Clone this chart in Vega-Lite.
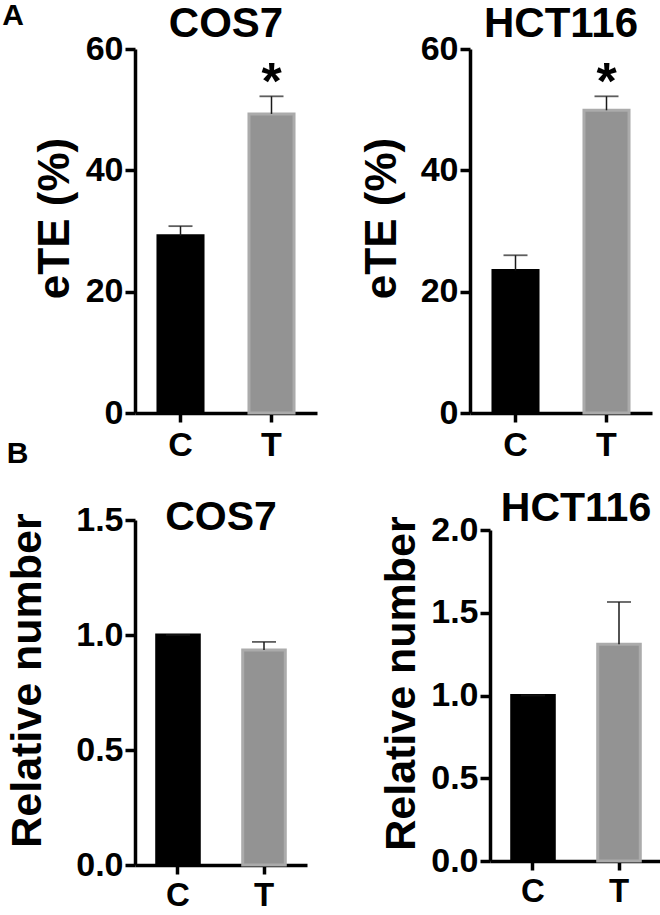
{
  "$schema": "https://vega.github.io/schema/vega-lite/v6.json",
  "background": "white",
  "padding": {"left": 2, "top": 1, "right": 0, "bottom": 0},
  "autosize": {"type": "pad"},
  "datasets": {
    "a_cos7": [
      {"group": "C", "mean": 29.2, "upper": 30.8, "star": ""},
      {"group": "T", "mean": 49.3, "upper": 52.2, "star": "*"}
    ],
    "a_hct": [
      {"group": "C", "mean": 23.5, "upper": 26.0, "star": ""},
      {"group": "T", "mean": 49.9, "upper": 52.2, "star": "*"}
    ],
    "b_cos7": [
      {"group": "C", "mean": 1.0, "upper": 1.0, "star": ""},
      {"group": "T", "mean": 0.935, "upper": 0.97, "star": ""}
    ],
    "b_hct": [
      {"group": "C", "mean": 1.0, "upper": 1.0, "star": ""},
      {"group": "T", "mean": 1.31, "upper": 1.565, "star": ""}
    ]
  },
  "config": {
    "font": "Liberation Sans",
    "view": {"stroke": null},
    "axis": {
      "domainColor": "black", "domainWidth": 3.5, "tickColor": "black", "tickWidth": 3.5, "tickSize": 10,
      "labelColor": "black", "labelFont": "Liberation Sans", "labelFontWeight": "bold", "labelFontSize": 34, "labelPadding": 2,
      "titleColor": "black", "titleFont": "Liberation Sans", "titleFontWeight": "bold", "titleFontSize": 44,
      "grid": false, "zindex": 1
    },
    "axisX": {"labelFontSize": 34, "tickSize": 9, "labelPadding": 6, "labelAngle": 0, "title": null},
    "title": {"font": "Liberation Sans", "fontWeight": "bold", "color": "black", "anchor": "middle", "frame": "group"}
  },
  "spacing": -23,
  "vconcat": [
    {
      "title": {"text": "A", "anchor": "start", "frame": "bounds", "fontSize": 30, "offset": -28, "dx": -31},
      "bounds": "flush",
      "spacing": 153,
      "hconcat": [
        {
          "width": 182, "height": 364,
          "data": {"name": "a_cos7"},
          "title": {"text": "COS7", "fontSize": 42, "offset": -14},
          "encoding": {"x": {"field": "group", "type": "nominal", "scale": {"paddingInner": 0.505, "paddingOuter": 0.2525}}},
          "layer": [
            {"mark": {"type": "bar", "strokeWidth": 3},
             "encoding": {
               "y": {"field": "mean", "type": "quantitative", "scale": {"domain": [0, 60], "nice": false}, "axis": {"values": [0, 20, 40, 60], "title": "eTE (%)", "titlePadding": 8, "titleY": 169}},
               "fill": {"field": "group", "type": "nominal", "scale": {"domain": ["C", "T"], "range": ["#000000", "#939393"]}, "legend": null},
               "stroke": {"field": "group", "type": "nominal", "scale": {"domain": ["C", "T"], "range": ["#000000", "#ababab"]}, "legend": null}}},
            {"mark": {"type": "rule", "strokeWidth": 1.5, "color": "#1a1a1a"},
             "encoding": {"y": {"field": "mean", "type": "quantitative"}, "y2": {"field": "upper"}}},
            {"mark": {"type": "tick", "size": 24, "thickness": 1.8, "color": "#1a1a1a"},
             "encoding": {"y": {"field": "upper", "type": "quantitative"}}},
            {"mark": {"type": "text", "fontSize": 52, "fontWeight": "bold", "baseline": "alphabetic", "dy": 3, "color": "black"},
             "encoding": {"y": {"field": "upper", "type": "quantitative"}, "text": {"field": "star"}}}
          ]
        },
        {
          "width": 182, "height": 364,
          "data": {"name": "a_hct"},
          "title": {"text": "HCT116", "fontSize": 42, "offset": -14},
          "encoding": {"x": {"field": "group", "type": "nominal", "scale": {"paddingInner": 0.505, "paddingOuter": 0.2525}}},
          "layer": [
            {"mark": {"type": "bar", "strokeWidth": 3},
             "encoding": {
               "y": {"field": "mean", "type": "quantitative", "scale": {"domain": [0, 60], "nice": false}, "axis": {"values": [0, 20, 40, 60], "title": "eTE (%)", "titlePadding": 16, "titleY": 169}},
               "fill": {"field": "group", "type": "nominal", "scale": {"domain": ["C", "T"], "range": ["#000000", "#939393"]}, "legend": null},
               "stroke": {"field": "group", "type": "nominal", "scale": {"domain": ["C", "T"], "range": ["#000000", "#ababab"]}, "legend": null}}},
            {"mark": {"type": "rule", "strokeWidth": 1.5, "color": "#1a1a1a"},
             "encoding": {"y": {"field": "mean", "type": "quantitative"}, "y2": {"field": "upper"}}},
            {"mark": {"type": "tick", "size": 24, "thickness": 1.8, "color": "#1a1a1a"},
             "encoding": {"y": {"field": "upper", "type": "quantitative"}}},
            {"mark": {"type": "text", "fontSize": 52, "fontWeight": "bold", "baseline": "alphabetic", "dy": 3, "color": "black"},
             "encoding": {"y": {"field": "upper", "type": "quantitative"}, "text": {"field": "star"}}}
          ]
        }
      ]
    },
    {
      "title": {"text": "B", "anchor": "start", "frame": "bounds", "fontSize": 30, "offset": 19},
      "bounds": "flush",
      "spacing": 183,
      "hconcat": [
        {
          "width": 172, "height": 345,
          "data": {"name": "b_cos7"},
          "title": {"text": "COS7", "fontSize": 41, "offset": -36},
          "encoding": {"x": {"field": "group", "type": "nominal", "scale": {"paddingInner": 0.505, "paddingOuter": 0.2525}, "axis": {"labelFontSize": 33, "labelPadding": 5}}},
          "layer": [
            {"mark": {"type": "bar", "strokeWidth": 3},
             "encoding": {
               "y": {"field": "mean", "type": "quantitative", "scale": {"domain": [0, 1.5], "nice": false}, "axis": {"values": [0, 0.5, 1, 1.5], "format": ".1f", "title": "Relative number", "titleFontSize": 43, "titlePadding": 26, "titleY": 160}},
               "fill": {"field": "group", "type": "nominal", "scale": {"domain": ["C", "T"], "range": ["#000000", "#939393"]}, "legend": null},
               "stroke": {"field": "group", "type": "nominal", "scale": {"domain": ["C", "T"], "range": ["#000000", "#ababab"]}, "legend": null}}},
            {"mark": {"type": "rule", "strokeWidth": 1.5, "color": "#1a1a1a"},
             "encoding": {"y": {"field": "mean", "type": "quantitative"}, "y2": {"field": "upper"}}},
            {"mark": {"type": "tick", "size": 24, "thickness": 1.8, "color": "#1a1a1a"},
             "encoding": {"y": {"field": "upper", "type": "quantitative"}}}
          ]
        },
        {
          "width": 172, "height": 341,
          "data": {"name": "b_hct"},
          "title": {"text": "HCT116", "fontSize": 41, "offset": -17},
          "encoding": {"x": {"field": "group", "type": "nominal", "scale": {"paddingInner": 0.505, "paddingOuter": 0.2525}, "axis": {"labelFontSize": 33, "labelPadding": 5}}},
          "layer": [
            {"mark": {"type": "bar", "strokeWidth": 3},
             "encoding": {
               "y": {"field": "mean", "type": "quantitative", "scale": {"domain": [0, 2], "nice": false, "range": [341, 10]}, "axis": {"values": [0, 0.5, 1, 1.5, 2], "format": ".1f", "title": "Relative number", "titleFontSize": 43, "titlePadding": 7, "titleY": 163}},
               "fill": {"field": "group", "type": "nominal", "scale": {"domain": ["C", "T"], "range": ["#000000", "#939393"]}, "legend": null},
               "stroke": {"field": "group", "type": "nominal", "scale": {"domain": ["C", "T"], "range": ["#000000", "#ababab"]}, "legend": null}}},
            {"mark": {"type": "rule", "strokeWidth": 1.5, "color": "#1a1a1a"},
             "encoding": {"y": {"field": "mean", "type": "quantitative"}, "y2": {"field": "upper"}}},
            {"mark": {"type": "tick", "size": 24, "thickness": 1.8, "color": "#1a1a1a"},
             "encoding": {"y": {"field": "upper", "type": "quantitative"}}}
          ]
        }
      ]
    }
  ]
}
